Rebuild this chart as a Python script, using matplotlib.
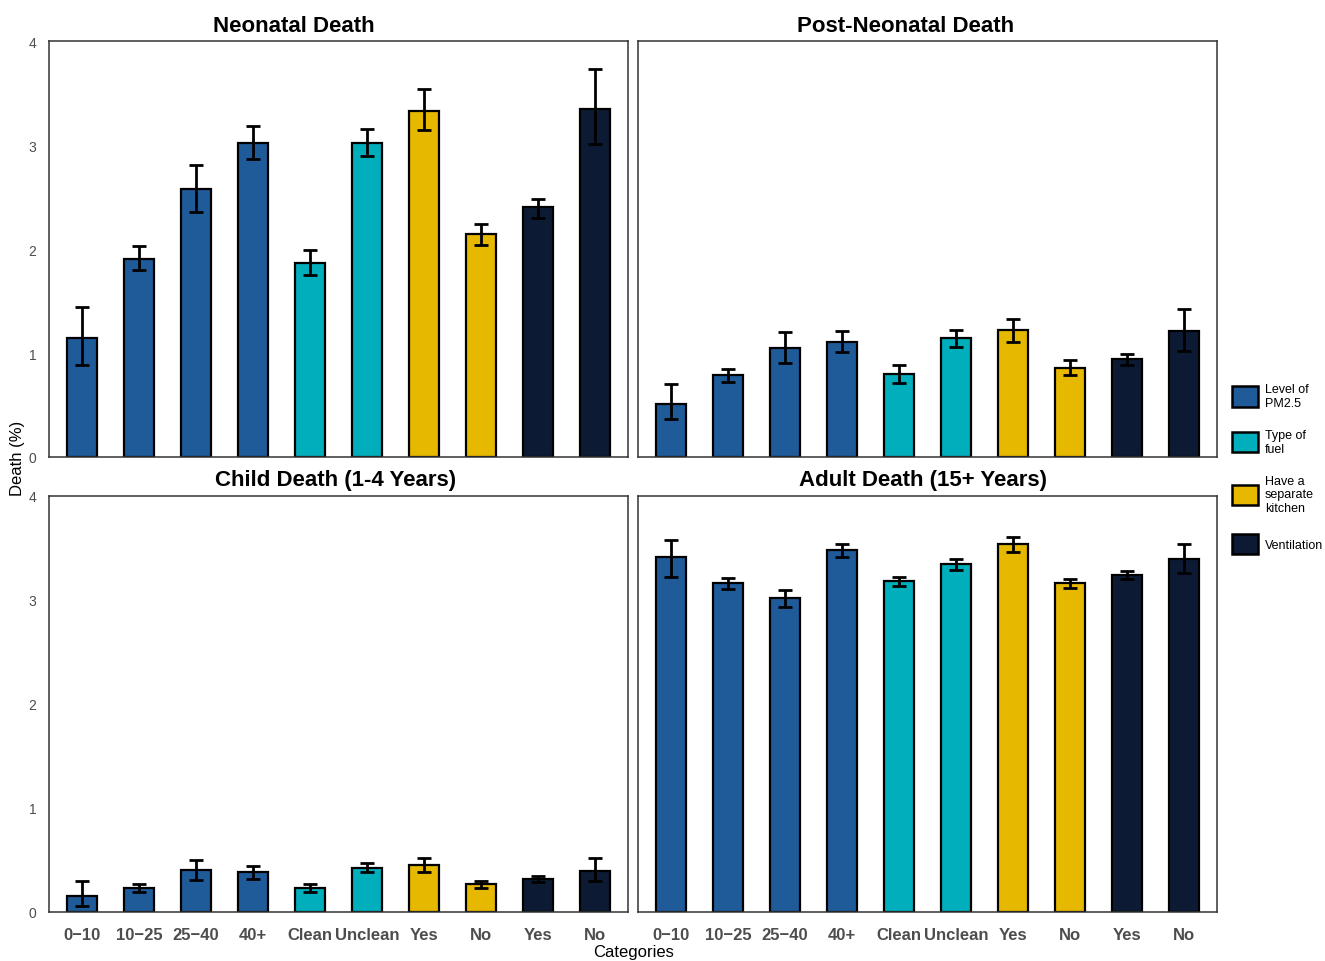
import matplotlib.pyplot as plt
from matplotlib.patches import Patch
import numpy as np

plt.rcParams['font.family'] = ['Liberation Sans', 'DejaVu Sans']

categories = ['0\u221210', '10\u221225', '25\u221240', '40+', 'Clean', 'Unclean', 'Yes', 'No', 'Yes', 'No']
groups = ['pm', 'pm', 'pm', 'pm', 'fuel', 'fuel', 'kitchen', 'kitchen', 'vent', 'vent']

group_colors = {'pm': '#1F5B99', 'fuel': '#00AFBB', 'kitchen': '#E7B800', 'vent': '#0C1B33'}
group_labels = {'pm': 'Level of\nPM2.5', 'fuel': 'Type of\nfuel',
                'kitchen': 'Have a\nseparate\nkitchen', 'vent': 'Ventilation'}

# mean, lower and upper bound of the interval (%)
neonatal = [1.14, 1.90, 2.58, 3.02, 1.87, 3.02, 3.33, 2.14, 2.40, 3.35]
neonatal_lo = [0.88, 1.80, 2.36, 2.87, 1.75, 2.89, 3.14, 2.04, 2.30, 3.01]
neonatal_hi = [1.44, 2.03, 2.81, 3.18, 1.99, 3.15, 3.54, 2.24, 2.48, 3.73]

postneonatal = [0.51, 0.79, 1.05, 1.11, 0.80, 1.14, 1.22, 0.86, 0.94, 1.21]
postneonatal_lo = [0.37, 0.72, 0.90, 1.01, 0.71, 1.06, 1.11, 0.79, 0.88, 1.02]
postneonatal_hi = [0.70, 0.85, 1.20, 1.21, 0.88, 1.22, 1.33, 0.93, 0.99, 1.42]

child = [0.15, 0.23, 0.40, 0.38, 0.23, 0.42, 0.45, 0.27, 0.32, 0.39]
child_lo = [0.06, 0.19, 0.31, 0.32, 0.19, 0.38, 0.38, 0.23, 0.29, 0.30]
child_hi = [0.30, 0.27, 0.50, 0.44, 0.27, 0.47, 0.52, 0.30, 0.35, 0.52]

adult = [3.41, 3.16, 3.02, 3.48, 3.18, 3.35, 3.54, 3.16, 3.24, 3.39]
adult_lo = [3.22, 3.11, 2.93, 3.41, 3.13, 3.29, 3.46, 3.12, 3.20, 3.26]
adult_hi = [3.58, 3.21, 3.10, 3.54, 3.22, 3.39, 3.61, 3.20, 3.28, 3.54]

panels = [
    ('Neonatal Death', neonatal, neonatal_lo, neonatal_hi),
    ('Post-Neonatal Death', postneonatal, postneonatal_lo, postneonatal_hi),
    ('Child Death (1-4 Years)', child, child_lo, child_hi),
    ('Adult Death (15+ Years)', adult, adult_lo, adult_hi),
]

W, H = 1325, 962
fig = plt.figure(figsize=(W / 100, H / 100), dpi=100)

# axes boxes in pixels: left, top, width, height
boxes = [(49, 42), (638, 42), (49, 497), (638, 497)]
title_x = [294, 906, 336, 923]
title_y = [26, 26, 481, 481]
aw, ah = 579, 416

x = np.arange(len(categories))
colors = [group_colors[g] for g in groups]

for i, (title, val, lo, hi) in enumerate(panels):
    left, top = boxes[i]
    ax = fig.add_axes([left / W, 1 - (top + ah) / H, aw / W, ah / H])
    val = np.array(val)
    yerr = [val - np.array(lo), np.array(hi) - val]
    ax.bar(x, val, width=0.52, color=colors, edgecolor='black', linewidth=1.6, zorder=2)
    ax.errorbar(x, val, yerr=yerr, fmt='none', ecolor='black', elinewidth=2,
                capsize=5, capthick=2, zorder=3)
    ax.set_xlim(-0.58, 9.58)
    ax.set_ylim(0, 4)
    ax.set_yticks([0, 1, 2, 3, 4])
    for s in ax.spines.values():
        s.set_color('#333333')
        s.set_linewidth(1.1)
    ax.tick_params(length=0)
    if i % 2 == 0:
        ax.tick_params(axis='y', labelsize=10, labelcolor='#4D4D4D', pad=9)
    else:
        ax.set_yticklabels([])
    ax.set_xticks(x)
    if i >= 2:
        ax.set_xticklabels(categories, fontsize=12, fontweight='bold', color='#4D4D4D')
        ax.tick_params(axis='x', pad=11)
    else:
        ax.set_xticklabels([])
    fig.text(title_x[i] / W, 1 - title_y[i] / H, title, fontsize=16, fontweight='bold',
             ha='center', va='center', color='black')

fig.text(18 / W, 1 - 458 / H, 'Death (%)', rotation=90, ha='center', va='center', fontsize=12)
fig.text(634 / W, 1 - 953 / H, 'Categories', ha='center', va='center', fontsize=12)

handles = [Patch(facecolor=group_colors[g], edgecolor='black', linewidth=1.8) for g in group_colors]
fig.legend(handles, [group_labels[g] for g in group_colors], loc='upper left',
           bbox_to_anchor=(1227 / W, 1 - 379 / H), frameon=False, fontsize=9,
           handlelength=2.1, handleheight=2.1, handletextpad=0.55, labelspacing=1.6,
           borderaxespad=0)

fig.savefig('out.png', dpi=100, facecolor='white')
